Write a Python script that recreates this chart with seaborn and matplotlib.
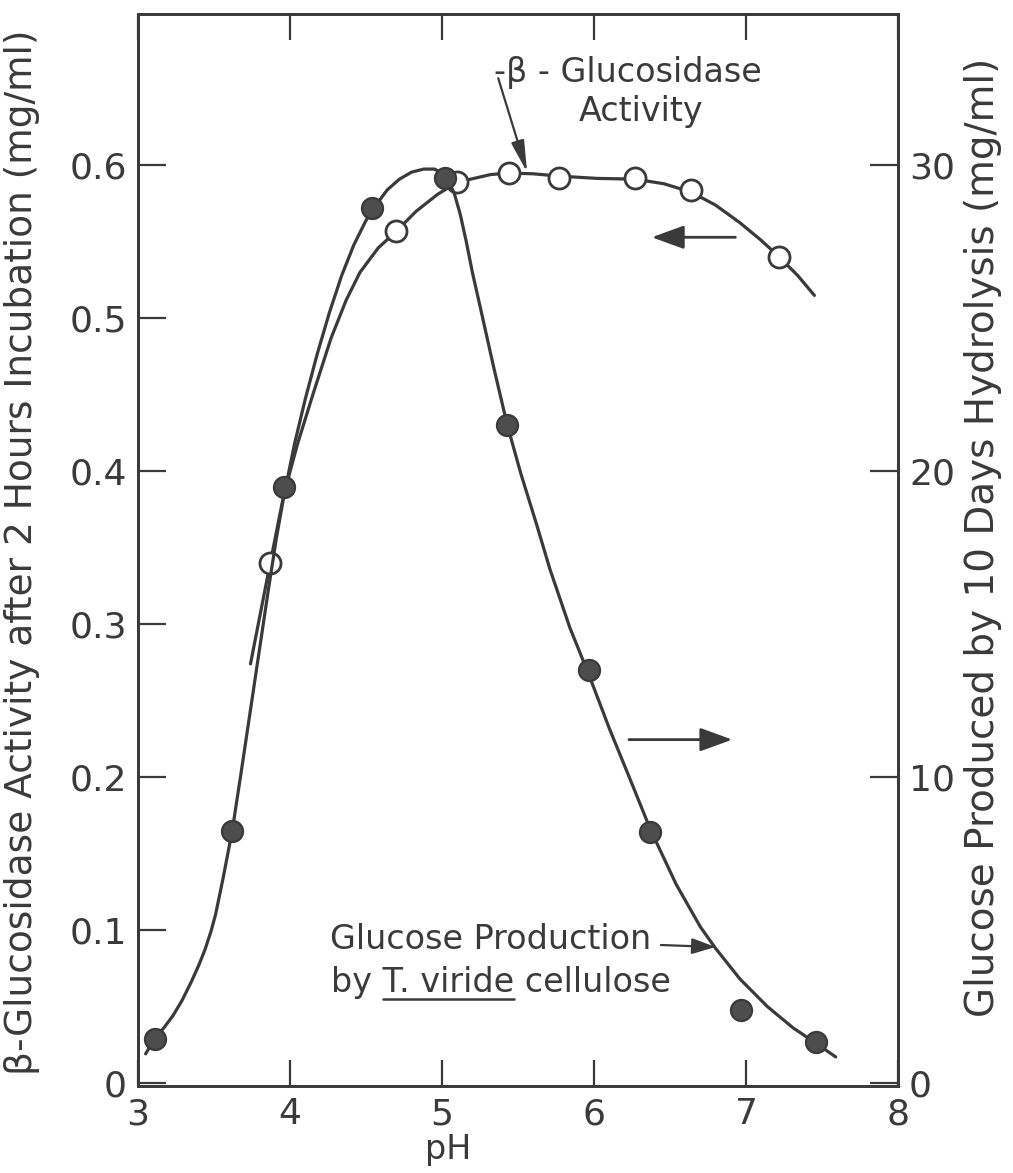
import matplotlib
matplotlib.use("Agg")
import matplotlib.pyplot as plt
import seaborn as sns
import pandas as pd

# pH series for the two measured quantities
ph_glucose = [3.11, 3.62, 3.96, 4.54, 5.02, 5.43, 5.97, 6.37, 6.97, 7.46]
glucose_mg = [1.45, 8.25, 19.5, 28.6, 29.6, 21.5, 13.5, 8.2, 2.4, 1.35]

ph_bgluc = [3.87, 4.70, 5.10, 5.44, 5.77, 6.27, 6.64, 7.22]
bgluc_activity = [0.340, 0.557, 0.589, 0.595, 0.592, 0.592, 0.584, 0.540]

# hand-fitted smooth curves drawn through the measurements
glucose_curve_ph = [3.05, 3.11, 3.17, 3.23, 3.29, 3.35, 3.40, 3.44, 3.48, 3.51,
                    3.56, 3.62, 3.68, 3.74, 3.80, 3.86, 3.91, 3.96, 4.03, 4.10,
                    4.18, 4.26, 4.34, 4.42, 4.50, 4.58, 4.64, 4.72, 4.80, 4.88,
                    4.95, 5.00, 5.04, 5.08, 5.12, 5.16, 5.20, 5.25, 5.34, 5.43,
                    5.52, 5.62, 5.71, 5.84, 5.97, 6.10, 6.24, 6.37, 6.54, 6.70,
                    6.80, 6.96, 7.14, 7.31, 7.46, 7.59]
glucose_curve = [0.95, 1.45, 1.8, 2.2, 2.7, 3.3, 3.85, 4.35, 4.95, 5.5,
                 6.7, 8.25, 10.2, 12.2, 14.2, 16.2, 17.8, 19.2, 20.9, 22.35,
                 23.85, 25.2, 26.4, 27.4, 28.2, 28.8, 29.2, 29.55, 29.78, 29.88,
                 29.88, 29.75, 29.5, 29.1, 28.4, 27.5, 26.5, 25.4, 23.4, 21.5,
                 19.9, 18.3, 16.8, 14.9, 13.3, 11.6, 9.9, 8.3, 6.5, 5.1,
                 4.4, 3.4, 2.5, 1.8, 1.3, 0.85]

bgluc_curve_ph = [3.74, 3.87, 3.96, 4.05, 4.15, 4.27, 4.37, 4.46, 4.58, 4.70,
                  4.83, 4.97, 5.10, 5.32, 5.44, 5.60, 5.77, 6.02, 6.27, 6.46,
                  6.64, 6.80, 6.96, 7.10, 7.22, 7.34, 7.45]
bgluc_curve = [0.274, 0.340, 0.385, 0.418, 0.450, 0.487, 0.512, 0.530, 0.546, 0.557,
               0.570, 0.581, 0.589, 0.594, 0.595, 0.5945, 0.593, 0.5915, 0.591, 0.588,
               0.5825, 0.574, 0.5625, 0.551, 0.540, 0.528, 0.515]

x_ticks = [3, 4, 5, 6, 7, 8]
left_ticks = [0, 0.1, 0.2, 0.3, 0.4, 0.5, 0.6]
left_tick_labels = ["0", "0.1", "0.2", "0.3", "0.4", "0.5", "0.6"]
right_ticks = [0, 10, 20, 30]
right_tick_labels = ["0", "10", "20", "30"]

INK = "#3a3a3a"
DOT = "#4d4d4d"

sns.set_theme(style="white")
plt.rcParams["font.family"] = ["DejaVu Sans"]

fig = plt.figure(figsize=(10.13, 11.73), dpi=100)
ax = fig.add_axes([138 / 1013, 1 - 1086 / 1173, 760 / 1013, 1072 / 1173])
ax2 = ax.twinx()

glc_pts = pd.DataFrame({"pH": ph_glucose, "glucose": glucose_mg})
glc_line = pd.DataFrame({"pH": glucose_curve_ph, "glucose": glucose_curve})
bg_pts = pd.DataFrame({"pH": ph_bgluc, "activity": bgluc_activity})
bg_line = pd.DataFrame({"pH": bgluc_curve_ph, "activity": bgluc_curve})

sns.lineplot(data=bg_line, x="pH", y="activity", ax=ax, sort=False, estimator=None,
             color=INK, linewidth=2.3, zorder=2)
sns.lineplot(data=glc_line, x="pH", y="glucose", ax=ax2, sort=False, estimator=None,
             color=INK, linewidth=2.3, zorder=2)
sns.scatterplot(data=glc_pts, x="pH", y="glucose", ax=ax2, s=230, color=DOT,
                edgecolor=INK, linewidth=1.6, zorder=4)
sns.scatterplot(data=bg_pts, x="pH", y="activity", ax=ax, s=230, color="white",
                edgecolor=INK, linewidth=2.0, zorder=4)

ax.set_xlim(3, 8)
ax.set_ylim(-0.002, 0.699)
ax2.set_ylim(-0.1, 34.95)

ax.set_xticks(x_ticks)
ax.set_xticklabels([str(t) for t in x_ticks])
ax.set_yticks(left_ticks)
ax.set_yticklabels(left_tick_labels)
ax2.set_yticks(right_ticks)
ax2.set_yticklabels(right_tick_labels)

tick_font = 26
ax.tick_params(axis="x", which="both", direction="in", length=19, width=1.6,
               top=True, bottom=True, labelsize=tick_font, pad=8, color=INK, labelcolor=INK)
ax.tick_params(axis="y", direction="in", length=20, width=1.6, left=True, right=False,
               labelsize=tick_font, pad=8, color=INK, labelcolor=INK)
ax2.tick_params(axis="y", direction="in", length=20, width=1.6, right=True, left=False,
                labelsize=tick_font, pad=8, color=INK, labelcolor=INK)
for a in (ax, ax2):
    for sp in a.spines.values():
        sp.set_color(INK)
        sp.set_linewidth(2.0)
        sp.set_visible(True)

ax.set_xlabel("pH", fontsize=24, color=INK)
ax.xaxis.set_label_coords((448 - 138) / 760, (1086 - 1150) / 1072)
ax.xaxis.label.set_va("center")
ax.set_ylabel("β-Glucosidase Activity after 2 Hours Incubation (mg/ml)",
              fontsize=27, color=INK)
ax.yaxis.set_label_coords((22 - 138) / 760, (1086 - 552) / 1072)
ax.yaxis.label.set_va("center")
ax2.set_ylabel("Glucose Produced by 10 Days Hydrolysis (mg/ml)",
               fontsize=28, color=INK, rotation=90)
ax2.yaxis.set_label_coords((983 - 138) / 760, (1086 - 537) / 1072)
ax2.yaxis.label.set_va("center")

# series direction arrows
arrow_kw = dict(arrowstyle="-|>,head_length=1.1,head_width=0.4", color=INK,
                lw=2.0, mutation_scale=18, shrinkA=0, shrinkB=0)
ax.annotate("", xy=(6.38, 0.553), xytext=(6.93, 0.553), arrowprops=arrow_kw)
ax.annotate("", xy=(6.91, 0.2245), xytext=(6.23, 0.2245), arrowprops=arrow_kw)

# curve labels
note_font = 24
ax.text(5.345, 0.661, "-β - Glucosidase", fontsize=note_font, color=INK,
        ha="left", va="center")
ax.text(6.31, 0.635, "Activity", fontsize=note_font, color=INK,
        ha="center", va="center")
ax.annotate("", xy=(5.56, 0.5955), xytext=(5.37, 0.657),
            arrowprops=dict(arrowstyle="-|>,head_length=1.2,head_width=0.25",
                            color=INK, lw=1.6, mutation_scale=16,
                            shrinkA=0, shrinkB=0))

ax.text(5.32, 0.0935, "Glucose Production", fontsize=note_font, color=INK,
        ha="center", va="center")
line2 = ax.text(5.39, 0.0654, "by T. viride cellulose", fontsize=note_font, color=INK,
                ha="center", va="center")
ax.annotate("", xy=(6.80, 0.0889), xytext=(6.44, 0.0902),
            arrowprops=dict(arrowstyle="-|>,head_length=0.9,head_width=0.3",
                            color=INK, lw=1.6, mutation_scale=16,
                            shrinkA=0, shrinkB=0))

# underline the species name inside the second label line
fig.canvas.draw()
renderer = fig.canvas.get_renderer()
full_bb = line2.get_window_extent(renderer)
probe = ax.text(0, 0, "by ", fontsize=note_font)
pre_w = probe.get_window_extent(renderer).width
probe.set_text("by T. viride")
name_w = probe.get_window_extent(renderer).width
probe.remove()
inv = ax.transData.inverted()
x0 = inv.transform((full_bb.x0 + pre_w, full_bb.y0))[0]
x1 = inv.transform((full_bb.x0 + name_w, full_bb.y0))
ax.plot([x0, x1[0]], [x1[1] + 0.0005, x1[1] + 0.0005], color=INK, lw=1.8)

fig.savefig("out.png", dpi=100, facecolor="white")
